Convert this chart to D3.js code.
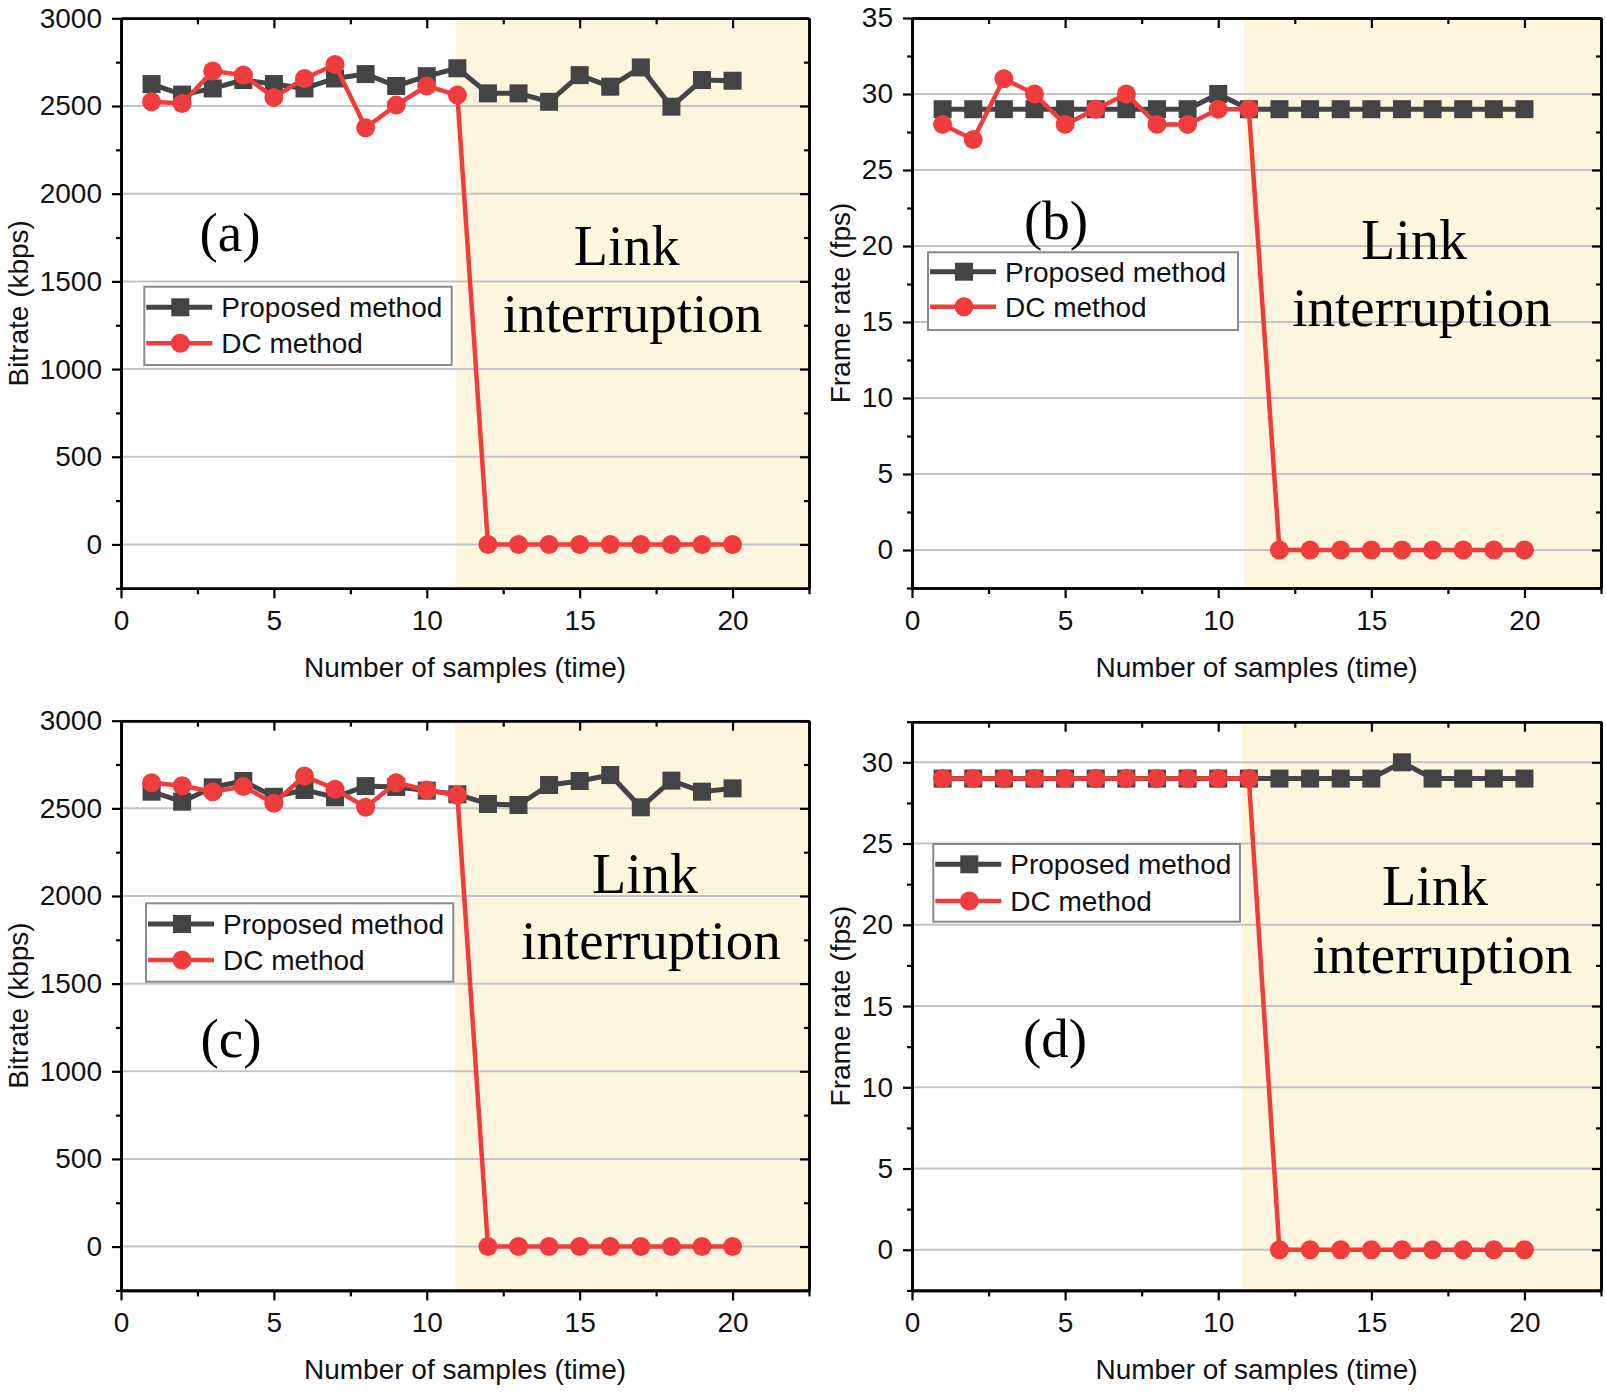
<!DOCTYPE html>
<html>
<head>
<meta charset="utf-8">
<script src="https://cdn.jsdelivr.net/npm/d3@7"></script>
<style>
  html, body { margin: 0; padding: 0; background: #ffffff; }
  svg { display: block; }
</style>
</head>
<body>
<svg id="chart" width="1606" height="1394"></svg>
<script>
// ---------------- DATA ----------------
const samples = [1,2,3,4,5,6,7,8,9,10,11,12,13,14,15,16,17,18,19,20];
const xTickValues = [0, 5, 10, 15, 20];
const bitrateTicks = [0, 500, 1000, 1500, 2000, 2500, 3000];
const fpsTicksB = [0, 5, 10, 15, 20, 25, 30, 35];
const fpsTicksD = [0, 5, 10, 15, 20, 25, 30];

const seriesNames = ["Proposed method", "DC method"];
const xTitle = "Number of samples (time)";
const bitrateTitle = "Bitrate (kbps)";
const fpsTitle = "Frame rate (fps)";
const shadeLabel = ["Link", "interruption"];
const panelLabels = ["(a)", "(b)", "(c)", "(d)"];

// (a) bitrate
const bitrateProposedA = [2625, 2565, 2600, 2648, 2625, 2600, 2657, 2682, 2614, 2670, 2715, 2572, 2572, 2524, 2676, 2610, 2720, 2496, 2648, 2644];
const bitrateDcA       = [2524, 2514, 2699, 2676, 2549, 2657, 2737, 2376, 2505, 2614, 2562, 0, 0, 0, 0, 0, 0, 0, 0, 0];
// (b) frame rate
const fpsProposedB = [29, 29, 29, 29, 29, 29, 29, 29, 29, 30, 29, 29, 29, 29, 29, 29, 29, 29, 29, 29];
const fpsDcB       = [28, 27, 31, 30, 28, 29, 30, 28, 28, 29, 29, 0, 0, 0, 0, 0, 0, 0, 0, 0];
// (c) bitrate
const bitrateProposedC = [2595, 2538, 2620, 2656, 2566, 2605, 2563, 2627, 2622, 2601, 2580, 2525, 2519, 2633, 2656, 2690, 2506, 2658, 2595, 2614];
const bitrateDcC       = [2646, 2629, 2595, 2624, 2529, 2685, 2609, 2506, 2646, 2605, 2576, 0, 0, 0, 0, 0, 0, 0, 0, 0];
// (d) frame rate
const fpsProposedD = [29, 29, 29, 29, 29, 29, 29, 29, 29, 29, 29, 29, 29, 29, 29, 30, 29, 29, 29, 29];
const fpsDcD       = [29, 29, 29, 29, 29, 29, 29, 29, 29, 29, 29, 0, 0, 0, 0, 0, 0, 0, 0, 0];

// ---------------- LAYOUT ----------------
const SANS = "'Liberation Sans', Arial, sans-serif";
const SERIF = "'Liberation Serif', 'Times New Roman', serif";
const COL_PROP = "#444444";
const COL_DC = "#f03c3c";
const COL_SHADE = "#fdf5de";
const COL_GRID = "#c4c4c4";

const panels = [
  { label: panelLabels[0], prop: bitrateProposedA, dc: bitrateDcA, ticks: bitrateTicks, minorStep: 250,
    yDomain: [-250, 3000], left: 121, right: 809, top: 18.3, bottom: 588.3, shade: 10.95,
    yTitle: bitrateTitle, yTitleX: 28,
    lab: [230, 251], link: [626.7, 265], intr: [632.5, 331.7],
    leg: { x: 144.3, y: 286.7, w: 307.4, h: 78.3, r1: 307.3, r2: 343.3 } },
  { label: panelLabels[1], prop: fpsProposedB, dc: fpsDcB, ticks: fpsTicksB, minorStep: 2.5,
    yDomain: [-2.5, 35], left: 912, right: 1601, top: 18, bottom: 588, shade: 10.85,
    yTitle: fpsTitle, yTitleX: 850,
    lab: [1056, 239], link: [1414, 259.3], intr: [1422, 326],
    leg: { x: 928, y: 252.3, w: 310, h: 77.7, r1: 271.7, r2: 306.7 } },
  { label: panelLabels[2], prop: bitrateProposedC, dc: bitrateDcC, ticks: bitrateTicks, minorStep: 250,
    yDomain: [-250, 3000], left: 121, right: 809, top: 720.7, bottom: 1290.4, shade: 10.92,
    yTitle: bitrateTitle, yTitleX: 28,
    lab: [231, 1057], link: [645, 892.7], intr: [651, 959.3],
    leg: { x: 146, y: 903.3, w: 307.3, h: 78.4, r1: 924, r2: 960 } },
  { label: panelLabels[3], prop: fpsProposedD, dc: fpsDcD, ticks: fpsTicksD, minorStep: 2.5,
    yDomain: [-2.5, 32.5], left: 912, right: 1601, top: 721.7, bottom: 1290.4, shade: 10.78,
    yTitle: fpsTitle, yTitleX: 850,
    lab: [1055, 1057], link: [1435, 905], intr: [1442.5, 973.3],
    leg: { x: 933.3, y: 844, w: 306.7, h: 77.7, r1: 864.3, r2: 901 } }
];

const svg = d3.select("#chart");

function minorValues(domain, step) {
  const out = [];
  const start = Math.ceil(domain[0] / step) * step;
  for (let v = start; v <= domain[1] + 1e-9; v += step) {
    const r = Math.round(v * 1000) / 1000;
    if (Math.abs(r / (step * 2) - Math.round(r / (step * 2))) > 1e-6) out.push(r);
  }
  return out;
}

panels.forEach(p => {
  const x = d3.scaleLinear().domain([0, 22.5]).range([p.left, p.right]);
  const y = d3.scaleLinear().domain(p.yDomain).range([p.bottom, p.top]);
  const g = svg.append("g");

  // shading (link interruption)
  g.append("rect")
    .attr("x", x(p.shade)).attr("y", p.top)
    .attr("width", x(22.5) - x(p.shade)).attr("height", p.bottom - p.top)
    .attr("fill", COL_SHADE);

  // grid lines
  g.append("g").selectAll("line").data(p.ticks).join("line")
    .attr("x1", p.left).attr("x2", p.right)
    .attr("y1", d => y(d)).attr("y2", d => y(d))
    .attr("stroke", COL_GRID).attr("stroke-width", 2);

  const xMinor = minorValues([0, 22.5], 2.5);
  const yMinor = minorValues(p.yDomain, p.minorStep);

  function styleAxis(sel) {
    sel.select(".domain").attr("stroke", "#000").attr("stroke-width", 2.6);
    sel.selectAll(".tick line").attr("stroke", "#000").attr("stroke-width", 2.2);
    sel.selectAll(".tick text").attr("fill", "#111").style("font-family", SANS).style("font-size", "28px");
  }

  // bottom axis
  g.append("g").attr("transform", `translate(0,${p.bottom})`)
    .call(d3.axisBottom(x).tickValues(xTickValues).tickSize(10).tickSizeOuter(0).tickPadding(12).tickFormat(d3.format("d")))
    .call(styleAxis);
  g.append("g").attr("transform", `translate(0,${p.bottom})`)
    .call(d3.axisBottom(x).tickValues(xMinor).tickSize(6).tickSizeOuter(0).tickFormat(""))
    .call(styleAxis);
  // top axis (ticks inward)
  g.append("g").attr("transform", `translate(0,${p.top})`)
    .call(d3.axisTop(x).tickValues(xTickValues).tickSize(-10).tickSizeOuter(0).tickFormat(""))
    .call(styleAxis);
  g.append("g").attr("transform", `translate(0,${p.top})`)
    .call(d3.axisTop(x).tickValues(xMinor).tickSize(-6).tickSizeOuter(0).tickFormat(""))
    .call(styleAxis);
  // left axis
  g.append("g").attr("transform", `translate(${p.left},0)`)
    .call(d3.axisLeft(y).tickValues(p.ticks).tickSize(9).tickSizeOuter(0).tickPadding(10).tickFormat(d3.format("d")))
    .call(styleAxis);
  g.append("g").attr("transform", `translate(${p.left},0)`)
    .call(d3.axisLeft(y).tickValues(yMinor).tickSize(5).tickSizeOuter(0).tickFormat(""))
    .call(styleAxis);
  // right axis (ticks inward)
  g.append("g").attr("transform", `translate(${p.right},0)`)
    .call(d3.axisRight(y).tickValues(p.ticks).tickSize(-9).tickSizeOuter(0).tickFormat(""))
    .call(styleAxis);
  g.append("g").attr("transform", `translate(${p.right},0)`)
    .call(d3.axisRight(y).tickValues(yMinor).tickSize(-5).tickSizeOuter(0).tickFormat(""))
    .call(styleAxis);

  // axis titles
  g.append("text")
    .attr("x", (p.left + p.right) / 2).attr("y", p.bottom + 89)
    .attr("text-anchor", "middle")
    .style("font-family", SANS).style("font-size", "28px").attr("fill", "#111")
    .text(xTitle);
  g.append("text")
    .attr("transform", `translate(${p.yTitleX},${(p.top + p.bottom) / 2}) rotate(-90)`)
    .attr("text-anchor", "middle")
    .style("font-family", SANS).style("font-size", "28px").attr("fill", "#111")
    .text(p.yTitle);

  // series lines
  const line = d3.line().x((d, i) => x(samples[i])).y(d => y(d));
  g.append("path").datum(p.prop).attr("d", line)
    .attr("fill", "none").attr("stroke", COL_PROP).attr("stroke-width", 5).attr("stroke-linejoin", "round");
  g.append("g").selectAll("rect").data(p.prop).join("rect")
    .attr("x", (d, i) => x(samples[i]) - 9).attr("y", d => y(d) - 9)
    .attr("width", 18).attr("height", 18).attr("fill", COL_PROP);

  g.append("path").datum(p.dc).attr("d", line)
    .attr("fill", "none").attr("stroke", COL_DC).attr("stroke-width", 4.5).attr("stroke-linejoin", "round");
  g.append("g").selectAll("circle").data(p.dc).join("circle")
    .attr("cx", (d, i) => x(samples[i])).attr("cy", d => y(d))
    .attr("r", 9.5).attr("fill", COL_DC);

  // panel label
  g.append("text").attr("x", p.lab[0]).attr("y", p.lab[1])
    .attr("text-anchor", "middle")
    .style("font-family", SERIF).style("font-size", "55px").attr("fill", "#000")
    .text(p.label);
  // Link interruption
  g.append("text").attr("x", p.link[0]).attr("y", p.link[1])
    .attr("text-anchor", "middle")
    .style("font-family", SERIF).style("font-size", "56px").attr("fill", "#000")
    .text(shadeLabel[0]);
  g.append("text").attr("x", p.intr[0]).attr("y", p.intr[1])
    .attr("text-anchor", "middle")
    .style("font-family", SERIF).style("font-size", "55px").attr("fill", "#000")
    .text(shadeLabel[1]);

  // legend
  const L = p.leg;
  const lg = g.append("g");
  lg.append("rect").attr("x", L.x).attr("y", L.y).attr("width", L.w).attr("height", L.h)
    .attr("fill", "#fff").attr("stroke", "#8a8a8a").attr("stroke-width", 2);
  [[L.r1, COL_PROP, "square", seriesNames[0]], [L.r2, COL_DC, "circle", seriesNames[1]]].forEach(([ry, c, shape, name]) => {
    lg.append("line").attr("x1", L.x + 2).attr("x2", L.x + 68).attr("y1", ry).attr("y2", ry)
      .attr("stroke", c).attr("stroke-width", shape === "square" ? 5 : 4.5);
    if (shape === "square") {
      lg.append("rect").attr("x", L.x + 36 - 9).attr("y", ry - 9).attr("width", 18).attr("height", 18).attr("fill", c);
    } else {
      lg.append("circle").attr("cx", L.x + 36).attr("cy", ry).attr("r", 9.5).attr("fill", c);
    }
    lg.append("text").attr("x", L.x + 77).attr("y", ry + 10)
      .style("font-family", SANS).style("font-size", "28px").attr("fill", "#111")
      .text(name);
  });
});
</script>
</body>
</html>
